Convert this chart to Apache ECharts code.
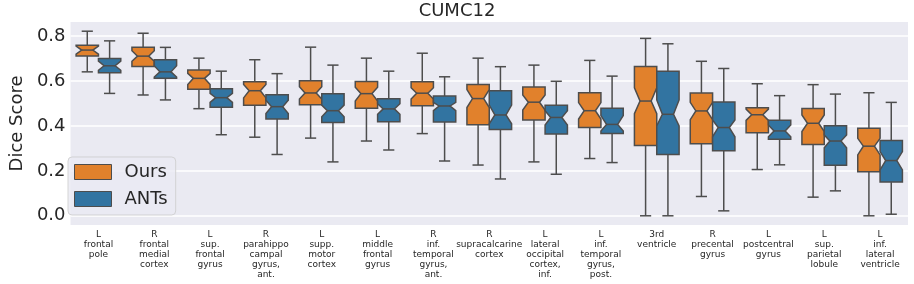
<!DOCTYPE html>
<html>
<head>
<meta charset="utf-8">
<script src="https://cdn.jsdelivr.net/npm/echarts@6/dist/echarts.min.js"></script>
<style>
html,body{margin:0;padding:0;background:#fff;}
#chart{width:914px;height:284px;}
</style>
</head>
<body>
<div id="chart"></div>
<script>
const categories = [
  "L\nfrontal\npole",
  "R\nfrontal\nmedial\ncortex",
  "L\nsup.\nfrontal\ngyrus",
  "R\nparahippo\ncampal\ngyrus,\nant.",
  "L\nsupp.\nmotor\ncortex",
  "L\nmiddle\nfrontal\ngyrus",
  "R\ninf.\ntemporal\ngyrus,\nant.",
  "R\nsupracalcarine\ncortex",
  "L\nlateral\noccipital\ncortex,\ninf.",
  "L\ninf.\ntemporal\ngyrus,\npost.",
  "3rd\nventricle",
  "R\nprecental\ngyrus",
  "L\npostcentral\ngyrus",
  "L\nsup.\nparietal\nlobule",
  "L\ninf.\nlateral\nventricle"
];

// [whisker low, Q1, notch low, median, notch high, Q3, whisker high]
const oursStats = [
  [0.641, 0.712, 0.720, 0.738, 0.756, 0.760, 0.822],
  [0.538, 0.665, 0.688, 0.711, 0.735, 0.751, 0.813],
  [0.477, 0.564, 0.585, 0.612, 0.634, 0.649, 0.702],
  [0.350, 0.492, 0.525, 0.557, 0.585, 0.597, 0.695],
  [0.346, 0.494, 0.520, 0.547, 0.575, 0.601, 0.751],
  [0.333, 0.479, 0.511, 0.544, 0.573, 0.598, 0.702],
  [0.366, 0.490, 0.520, 0.546, 0.570, 0.597, 0.724],
  [0.226, 0.405, 0.482, 0.522, 0.562, 0.585, 0.702],
  [0.240, 0.427, 0.471, 0.506, 0.538, 0.573, 0.671],
  [0.255, 0.393, 0.431, 0.468, 0.504, 0.548, 0.692],
  [0.000, 0.313, 0.455, 0.511, 0.570, 0.665, 0.790],
  [0.086, 0.321, 0.428, 0.467, 0.505, 0.547, 0.688],
  [0.206, 0.370, 0.425, 0.450, 0.475, 0.481, 0.588],
  [0.083, 0.318, 0.375, 0.412, 0.449, 0.478, 0.584],
  [0.000, 0.196, 0.271, 0.310, 0.345, 0.390, 0.548]
];
const antsStats = [
  [0.545, 0.637, 0.648, 0.668, 0.689, 0.701, 0.779],
  [0.516, 0.612, 0.618, 0.641, 0.668, 0.695, 0.750],
  [0.361, 0.483, 0.505, 0.526, 0.545, 0.566, 0.644],
  [0.273, 0.431, 0.455, 0.486, 0.515, 0.539, 0.633],
  [0.240, 0.415, 0.441, 0.468, 0.493, 0.544, 0.671],
  [0.293, 0.419, 0.452, 0.476, 0.499, 0.521, 0.644],
  [0.244, 0.418, 0.468, 0.489, 0.505, 0.533, 0.619],
  [0.164, 0.384, 0.410, 0.449, 0.493, 0.557, 0.664],
  [0.185, 0.364, 0.404, 0.438, 0.468, 0.492, 0.599],
  [0.237, 0.367, 0.378, 0.407, 0.446, 0.479, 0.622],
  [0.000, 0.273, 0.400, 0.452, 0.516, 0.644, 0.766],
  [0.022, 0.290, 0.352, 0.393, 0.427, 0.507, 0.656],
  [0.227, 0.341, 0.352, 0.378, 0.404, 0.425, 0.535],
  [0.111, 0.225, 0.303, 0.333, 0.360, 0.401, 0.542],
  [0.007, 0.150, 0.204, 0.246, 0.286, 0.335, 0.505]
];
const yTicks = [0, 0.2, 0.4, 0.6, 0.8];
const seriesNames = ["Ours", "ANTs"];

const FONT = "DejaVu Sans";
const TEXT = "#262626";
const EDGE = "#4d4d4d";
const colors = ["#e1812c", "#3274a1"];

function makeRender(side, color) {
  return function (params, api) {
    const idx = api.value(0);
    const band = api.size([1, 0])[0];
    const hw = band * 0.2;
    const cx = api.coord([idx, 0])[0] + side * band * 0.2;
    const y = i => api.coord([idx, api.value(i)])[1];
    const wlo = y(1), q1 = y(2), nlo = y(3), med = y(4), nhi = y(5), q3 = y(6), whi = y(7);
    const L = cx - hw, R = cx + hw, cl = cx - hw / 2, cr = cx + hw / 2;
    const lineStyle = { stroke: EDGE, lineWidth: 1.5 };
    return {
      type: 'group',
      children: [
        { type: 'line', shape: { x1: cx, y1: q1, x2: cx, y2: wlo }, style: lineStyle },
        { type: 'line', shape: { x1: cx, y1: q3, x2: cx, y2: whi }, style: lineStyle },
        { type: 'line', shape: { x1: cl, y1: wlo, x2: cr, y2: wlo }, style: lineStyle },
        { type: 'line', shape: { x1: cl, y1: whi, x2: cr, y2: whi }, style: lineStyle },
        { type: 'polygon', shape: { points: [[L, q1], [R, q1], [R, nlo], [cr, med], [R, nhi], [R, q3], [L, q3], [L, nhi], [cl, med], [L, nlo]] },
          style: { fill: color, stroke: EDGE, lineWidth: 1.5 } },
        { type: 'line', shape: { x1: cl, y1: med, x2: cr, y2: med }, style: lineStyle }
      ]
    };
  };
}

function toData(stats) {
  return stats.map((s, i) => [i].concat(s));
}

const chart = echarts.init(document.getElementById('chart'), null, { renderer: 'canvas' });
chart.setOption({
  animation: false,
  backgroundColor: '#ffffff',
  textStyle: { fontFamily: FONT, color: TEXT },
  title: {
    text: 'CUMC12', left: 'center', top: 2, padding: 0,
    textStyle: { fontFamily: FONT, fontSize: 18, fontWeight: 'normal', color: TEXT }
  },
  legend: {
    orient: 'vertical', left: 68, top: 157,
    padding: [6, 8, 7, 6], itemGap: 9,
    itemWidth: 37, itemHeight: 15,
    backgroundColor: 'rgba(234,234,242,0.8)',
    borderColor: 'rgba(204,204,204,0.8)', borderWidth: 1, borderRadius: 4,
    icon: 'rect',
    textStyle: { fontFamily: FONT, fontSize: 18, color: TEXT, padding: [0, 0, 0, 8] },
    itemStyle: { borderColor: EDGE, borderWidth: 1 },
    data: seriesNames
  },
  grid: {
    left: 58, right: 6, top: 22, bottom: 59,
    show: true, backgroundColor: '#eaeaf2', borderWidth: 0
  },
  xAxis: {
    type: 'category', data: categories,
    axisLine: { show: false }, axisTick: { show: false },
    splitLine: { show: false },
    axisLabel: { interval: 0, fontFamily: FONT, fontSize: 9, lineHeight: 10, color: TEXT, margin: 5, align: 'center' }
  },
  yAxis: {
    type: 'value', min: -0.041, max: 0.863,
    name: 'Dice Score', nameLocation: 'middle', nameGap: 44,
    nameTextStyle: { fontFamily: FONT, fontSize: 18, color: TEXT },
    axisLine: { show: false },
    axisTick: { show: false, customValues: yTicks },
    axisLabel: { customValues: yTicks, formatter: v => v.toFixed(1), fontFamily: FONT, fontSize: 18, color: TEXT, margin: 5 },
    splitLine: { show: true, lineStyle: { color: '#ffffff', width: 1.5 } }
  },
  series: [
    {
      name: seriesNames[0], type: 'custom', color: colors[0],
      renderItem: makeRender(-1, colors[0]),
      encode: { x: 0, y: [1, 2, 3, 4, 5, 6, 7] },
      data: toData(oursStats)
    },
    {
      name: seriesNames[1], type: 'custom', color: colors[1],
      renderItem: makeRender(1, colors[1]),
      encode: { x: 0, y: [1, 2, 3, 4, 5, 6, 7] },
      data: toData(antsStats)
    }
  ]
});
</script>
</body>
</html>
